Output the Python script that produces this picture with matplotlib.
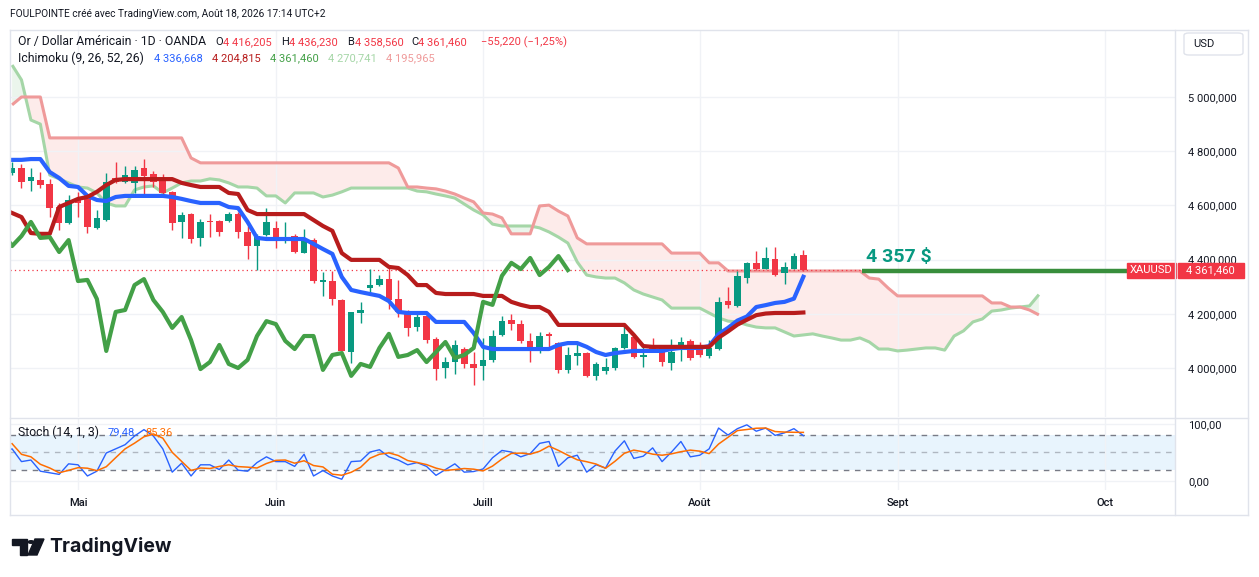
import numpy as np
import pandas as pd
import matplotlib
matplotlib.use("Agg")
import matplotlib.pyplot as plt
from matplotlib.patches import Rectangle, FancyBboxPatch, Polygon, Circle
from matplotlib.lines import Line2D
from matplotlib.transforms import blended_transform_factory

plt.rcParams['font.family'] = ['Roboto', 'DejaVu Sans']

# ---- data (bar index 0 = 1 mai, daily bars) ----
first_bar = -7
opens = [4720, 4738, 4690, 4694, 4679, 4594, 4535, 4627, 4624, 4517,
         4546, 4701, 4686, 4683, 4738, 4716, 4690, 4650, 4539, 4568,
         4480, 4543, 4543, 4543, 4568, 4502, 4450, 4491, 4517, 4476,
         4487, 4424, 4472, 4317, 4321, 4251, 4059, 4203, 4295, 4306,
         4328, 4255, 4199, 4151, 4192, 4107, 4000, 4022, 4070, 4015,
         4007, 4030, 4122, 4177, 4162, 4100, 4070, 4126, 4092, 3993,
         4044, 4055, 3971, 3989, 4000, 4074, 4115, 4041, 4085, 4078,
         4019, 4066, 4100, 4074, 4044, 4070, 4247, 4229, 4332, 4388,
         4365, 4402, 4351, 4365, 4416.205]
highs = [4760, 4753, 4738, 4723, 4697, 4609, 4639, 4650, 4628, 4583,
         4720, 4760, 4745, 4745, 4771, 4727, 4716, 4653, 4576, 4572,
         4550, 4568, 4546, 4576, 4576, 4524, 4495, 4590, 4543, 4539,
         4495, 4513, 4480, 4354, 4358, 4255, 4207, 4244, 4365, 4343,
         4373, 4325, 4214, 4203, 4203, 4115, 4041, 4103, 4078, 4059,
         4111, 4140, 4192, 4199, 4177, 4129, 4133, 4133, 4096, 4078,
         4092, 4059, 4022, 4037, 4078, 4162, 4118, 4078, 4111, 4081,
         4107, 4115, 4107, 4096, 4103, 4262, 4299, 4358, 4391, 4432,
         4447, 4447, 4391, 4424, 4436.23]
lows = [4712, 4664, 4653, 4664, 4557, 4509, 4532, 4557, 4498, 4513,
        4543, 4683, 4683, 4646, 4639, 4668, 4642, 4509, 4480, 4461,
        4450, 4483, 4487, 4539, 4480, 4402, 4362, 4487, 4443, 4461,
        4424, 4424, 4314, 4266, 4233, 4063, 4019, 4166, 4277, 4303,
        4218, 4188, 4118, 4137, 4092, 3956, 3963, 3978, 4000, 3937,
        3956, 4022, 4118, 4140, 4092, 4022, 4055, 4074, 3982, 3982,
        4011, 3967, 3956, 3978, 3993, 4070, 4037, 4004, 4059, 4007,
        3993, 4026, 4030, 4041, 4037, 4066, 4221, 4225, 4314, 4362,
        4365, 4340, 4310, 4365, 4358.56]
closes = [4738, 4686, 4705, 4675, 4590, 4535, 4620, 4609, 4520, 4554,
          4686, 4686, 4712, 4731, 4709, 4686, 4646, 4535, 4565, 4476,
          4539, 4539, 4502, 4568, 4502, 4450, 4487, 4539, 4480, 4483,
          4428, 4472, 4321, 4325, 4255, 4063, 4207, 4214, 4306, 4328,
          4251, 4207, 4148, 4188, 4103, 3996, 4022, 4085, 4015, 4000,
          4030, 4118, 4173, 4162, 4100, 4070, 4118, 4118, 3993, 4048,
          4055, 3971, 4015, 4004, 4074, 4126, 4041, 4048, 4066, 4022,
          4059, 4096, 4037, 4048, 4074, 4244, 4233, 4340, 4388, 4365,
          4406, 4343, 4373, 4413, 4361.46]

tenkan = [4768, 4768, 4771, 4771, 4723, 4701, 4672, 4668, 4635, 4620,
          4616, 4631, 4635, 4635, 4635, 4635, 4635, 4631, 4624, 4616,
          4609, 4609, 4609, 4594, 4590, 4539, 4480, 4476, 4476, 4476,
          4476, 4476, 4458, 4439, 4421, 4336, 4288, 4280, 4273, 4266,
          4247, 4207, 4203, 4203, 4203, 4170, 4170, 4170, 4170, 4129,
          4078, 4070, 4070, 4070, 4070, 4070, 4070, 4070, 4085, 4092,
          4092, 4078, 4059, 4048, 4055, 4059, 4063, 4063, 4063, 4063,
          4070, 4074, 4074, 4074, 4081, 4125, 4148, 4175, 4190, 4225,
          4232, 4240, 4244, 4256, 4336.668]
kijun = [4572, 4557, 4498, 4495, 4495, 4594, 4609, 4624, 4631, 4650,
         4675, 4694, 4697, 4697, 4697, 4697, 4697, 4697, 4683, 4675,
         4668, 4668, 4668, 4646, 4642, 4583, 4568, 4568, 4568, 4568,
         4568, 4568, 4546, 4524, 4506, 4424, 4399, 4399, 4399, 4399,
         4373, 4369, 4343, 4306, 4306, 4277, 4273, 4273, 4273, 4273,
         4266, 4266, 4266, 4244, 4233, 4225, 4225, 4207, 4159, 4159,
         4159, 4159, 4159, 4159, 4159, 4159, 4122, 4081, 4078, 4078,
         4078, 4078, 4078, 4078, 4078, 4112, 4135, 4160, 4178, 4195,
         4201, 4203, 4203, 4203, 4204.815]
# leading spans, bars -7 .. 102
span_a = [5118, 5063, 4915, 4900, 4712, 4698, 4683, 4668, 4664, 4646,
          4609, 4598, 4598, 4657, 4668, 4672, 4646, 4664, 4683, 4690,
          4690, 4698, 4694, 4683, 4668, 4668, 4664, 4635, 4635, 4609,
          4646, 4646, 4646, 4631, 4638, 4650, 4664, 4664, 4664, 4664,
          4664, 4664, 4664, 4653, 4650, 4642, 4635, 4627, 4605, 4583,
          4565, 4531, 4524, 4524, 4524, 4524, 4517, 4502, 4483, 4461,
          4391, 4343, 4336, 4332, 4332, 4314, 4288, 4273, 4262, 4251,
          4221, 4221, 4221, 4221, 4203, 4185, 4173, 4170, 4159, 4151,
          4148, 4148, 4133, 4118, 4122, 4126, 4118, 4111, 4103, 4103,
          4111, 4096, 4070, 4070, 4063, 4066, 4070, 4074, 4074, 4066,
          4118, 4137, 4170, 4181, 4210, 4214, 4221, 4225, 4229, 4270.741]
span_b = [4971, 5000, 5000, 5000, 4849, 4849, 4849, 4849, 4849, 4849,
          4849, 4849, 4849, 4849, 4849, 4849, 4849, 4849, 4849, 4775,
          4757, 4757, 4757, 4757, 4757, 4757, 4757, 4757, 4757, 4757,
          4757, 4757, 4757, 4757, 4757, 4757, 4757, 4757, 4757, 4757,
          4757, 4738, 4668, 4668, 4664, 4661, 4653, 4642, 4627, 4613,
          4572, 4568, 4554, 4495, 4495, 4495, 4598, 4601, 4579, 4561,
          4480, 4458, 4458, 4458, 4458, 4458, 4458, 4458, 4458, 4458,
          4424, 4424, 4424, 4424, 4388, 4388, 4358, 4358, 4358, 4358,
          4358, 4358, 4358, 4358, 4358, 4358, 4358, 4358, 4358, 4358,
          4358, 4332, 4328, 4295, 4266, 4266, 4266, 4266, 4266, 4266,
          4266, 4266, 4266, 4266, 4240, 4240, 4225, 4225, 4214, 4195.965]
chikou_shift = 25

stoch_first = -9
stoch_k = [90, 50,
           56.4, 34, 36.8, 17.2, 14.4, 11.6, 30.1, 28.4, 8.8, 17.2,
           49.1, 56.4, 63.7, 78.9, 90.1, 78.9, 56.4, 15.5, 31.2, 8.8,
           28.4, 28.4, 20, 36.8, 18.9, 17.2, 32.3, 42.4, 34, 34,
           25.6, 46.9, 8.8, 18.3, 8.8, 3.1, 34, 35.1, 50.8, 54.8,
           42.4, 36.8, 28.4, 32.3, 25.6, 9.9, 20, 30.1, 15.5, 16.6,
           21.1, 40.7, 53.6, 50.8, 42.4, 48, 66, 69.3, 25.6, 40.7,
           45.2, 15.5, 28.4, 22.8, 52.5, 70.5, 39.6, 43.5, 58.1, 34,
           50.8, 69.3, 42.4, 45.2, 56.4, 92.9, 80.6, 91.8, 98.5, 87.3,
           92.9, 80, 84.5, 91.8, 79.48]

month_bars = [0, 21, 43, 66, 87, 109]
month_labels = ["Mai", "Juin", "Juill", "Août", "Sept", "Oct"]
price_ticks = [4000, 4200, 4400, 4600, 4800, 5000]
level = 4357
level_label = "4 357 $"
level_start, level_end = 83.2, 111.4

# ---- colours ----
UP, DOWN = "#089981", "#F23645"
C_TENKAN, C_KIJUN, C_CHIKOU = "#2962FF", "#B71C1C", "#43A047"
C_SPANA, C_SPANB = "#A5D6A7", "#EF9A9A"
TXT = "#131722"
GRID = "#F0F2F6"
BORDER = "#E0E3EB"

W, H = 1259, 577
fig = plt.figure(figsize=(W / 100, H / 100), dpi=100)
fig.patch.set_facecolor("white")


def P(x, y):
    return x / W, 1 - y / H


def fmt_price(v):
    return f"{int(round(v)):,}".replace(",", " ") + ",000"


ax = fig.add_axes([10 / W, 1 - 417 / H, 1165 / W, 387 / H])
ax2 = fig.add_axes([10 / W, 1 - 490 / H, 1165 / W, 72 / H], sharex=ax)

idx = np.arange(first_bar, first_bar + len(closes))
o = np.array(opens); c = np.array(closes)
hi = np.array(highs); lo = np.array(lows)
col = np.where(c >= o, UP, DOWN)

# cloud
sidx = np.arange(first_bar, first_bar + len(span_a))
sa = np.array(span_a); sb = np.array(span_b)
ax.fill_between(sidx, sa, sb, where=sa >= sb, interpolate=True,
                color="#43A047", alpha=0.1, lw=0, zorder=1)
ax.fill_between(sidx, sa, sb, where=sa < sb, interpolate=True,
                color="#F44336", alpha=0.1, lw=0, zorder=1)
ax.plot(sidx, sa, color=C_SPANA, lw=2.2, zorder=2, solid_capstyle="butt")
ax.plot(sidx, sb, color=C_SPANB, lw=2.2, zorder=2, solid_capstyle="butt")

# candles
ax.vlines(idx, lo, hi, colors=col, lw=1, zorder=3)
body = np.maximum(np.abs(c - o), 3)
ax.bar(idx, body, bottom=np.minimum(o, c), width=0.7, color=col,
       linewidth=0, zorder=3.1)

# lines
ax.plot(idx, tenkan, color=C_TENKAN, lw=3, zorder=4)
ax.plot(idx, kijun, color=C_KIJUN, lw=3, zorder=4)
ax.plot(idx - chikou_shift, closes, color=C_CHIKOU, lw=3, zorder=4)

# last price line
ax.axhline(closes[-1], color=DOWN, lw=0.9, ls=(0, (1, 2.5)), zorder=2.5)
# drawn level
ax.plot([level_start, level_end], [level, level], color="#388E3C", lw=3.2,
        zorder=5, solid_capstyle="butt", clip_on=False)
ax.annotate(level_label, xy=(level_start, level), xytext=(3, 4),
            textcoords="offset points", color=UP, fontsize=14,
            fontweight="bold", va="bottom", ha="left", zorder=6)

ax.set_xlim(-7.22, 116.45)
ax.set_ylim(3819.2, 5247.2)
ax.yaxis.tick_right()
ax.set_yticks(price_ticks)
ax.set_yticklabels([fmt_price(v) for v in price_ticks])
ax.tick_params(axis="y", length=0, pad=9.4, labelsize=8, labelcolor=TXT)
ax.tick_params(axis="x", length=0, labelbottom=False)
ax.grid(True, color=GRID, lw=1, zorder=0)
for s in ax.spines.values():
    s.set_visible(False)

# stochastic
k = pd.Series(stoch_k, dtype=float)
d = k.rolling(3).mean()
kidx = np.arange(stoch_first, stoch_first + len(stoch_k))
ax2.axhspan(20, 80, color="#2196F3", alpha=0.1, lw=0, zorder=1)
ax2.axhline(80, color="#787B86", lw=1, ls=(0, (4, 4)), zorder=2)
ax2.axhline(50, color="#787B86", lw=1, ls=(0, (4, 4)), alpha=0.5, zorder=2)
ax2.axhline(20, color="#787B86", lw=1, ls=(0, (4, 4)), zorder=2)
ax2.plot(kidx, k, color="#2962FF", lw=1, zorder=3)
ax2.plot(kidx, d, color="#FF6D00", lw=1.1, zorder=3)
ax2.set_ylim(-15.8, 110.5)
ax2.yaxis.tick_right()
ax2.set_yticks([0, 100])
ax2.set_yticklabels(["0,00", "100,00"])
ax2.tick_params(axis="y", length=0, pad=9.4, labelsize=8, labelcolor=TXT)
ax2.set_xticks(month_bars)
ax2.set_xticklabels(month_labels)
ax2.tick_params(axis="x", length=0, pad=5.8, labelsize=8, labelcolor=TXT)
for lab in ax2.get_xticklabels():
    lab.set_fontweight("medium")
ax2.grid(True, color=GRID, lw=1, zorder=0)
for s in ax2.spines.values():
    s.set_visible(False)

# frame
for xs, ys in [([10, 1248], [30, 30]), ([10, 1248], [515, 515]),
               ([10, 10], [30, 515]), ([1248, 1248], [30, 515]),
               ([10, 1248], [417.5, 417.5]), ([1175, 1175], [30, 515])]:
    fig.add_artist(Line2D([x / W for x in xs], [1 - y / H for y in ys],
                          color=BORDER, lw=1, transform=fig.transFigure))

# last price labels on the axis
bt = blended_transform_factory(fig.transFigure, ax.transData)
half = 7.5 * (5247.2 - 3819.2) / 387
ax.add_artist(Rectangle((1127 / W, closes[-1] - half), 49 / W, 2 * half,
                        transform=bt, color=DOWN, clip_on=False, zorder=7))
ax.add_artist(Rectangle((1177.5 / W, closes[-1] - half), 66 / W, 2 * half,
                        transform=bt, color=DOWN, clip_on=False, zorder=7))
ax.text(1151.5 / W, closes[-1], "XAUUSD", transform=bt, color="white",
        fontsize=8, ha="center", va="center", zorder=8, clip_on=False)
ax.text(1210.5 / W, closes[-1], "4 361,460", transform=bt, color="white",
        fontsize=8, ha="center", va="center", zorder=8, clip_on=False)

# USD button
fig.add_artist(FancyBboxPatch(P(1184, 55), 59 / W, 22 / H,
                              boxstyle="round,pad=0,rounding_size=0.004",
                              transform=fig.transFigure, facecolor="white",
                              edgecolor=BORDER, lw=1))
fig.text(*P(1193, 44), "USD", fontsize=8, color=TXT, va="center")

# header
fig.text(*P(10, 14), "FOULPOINTE créé avec TradingView.com, Août 18, 2026 17:14 UTC+2",
         fontsize=7.3, color=TXT, va="center")
row2 = [(18, "Or / Dollar Américain · 1D · OANDA", TXT, 8.8), (215, "O", TXT, 8),
        (223, "4 416,205", DOWN, 8), (281, "H", TXT, 8), (289, "4 436,230", DOWN, 8),
        (347, "B", TXT, 8), (355, "4 358,560", DOWN, 8), (411, "C", TXT, 8),
        (418, "4 361,460", DOWN, 8), (481, "−55,220 (−1,25%)", DOWN, 8)]
for x, s, cl, fs in row2:
    fig.text(*P(x, 42), s, fontsize=fs, color=cl, va="center")
row3 = [(18, "Ichimoku (9, 26, 52, 26)", TXT, 8.8), (154, "4 336,668", C_TENKAN, 8),
        (212, "4 204,815", C_KIJUN, 8), (270, "4 361,460", C_CHIKOU, 8),
        (328, "4 270,741", C_SPANA, 8), (386, "4 195,965", C_SPANB, 8)]
for x, s, cl, fs in row3:
    fig.text(*P(x, 58), s, fontsize=fs, color=cl, va="center")
row4 = [(18, "Stoch (14, 1, 3)", TXT, 8.8), (108, "79,48", "#2962FF", 8),
        (145, "85,36", "#FF6D00", 8)]
for x, s, cl, fs in row4:
    fig.text(*P(x, 432), s, fontsize=fs, color=cl, va="center")

# TradingView logo
fig.add_artist(Polygon([P(12, 539), P(27, 539), P(27, 555), P(20, 555),
                        P(20, 545), P(12, 545)], closed=True,
                       transform=fig.transFigure, color="#131722"))
fig.add_artist(Circle(P(31, 542), 2.8 / W, transform=fig.transFigure,
                      color="#131722"))
fig.add_artist(Polygon([P(35, 539), P(44, 539), P(37, 555), P(28, 555)],
                       closed=True, transform=fig.transFigure, color="#131722"))
fig.text(*P(49, 547), "TradingView", fontsize=14, fontweight="bold",
         color="#131722", va="center", family=["Inter", "DejaVu Sans"])

fig.savefig("out.png", dpi=100, facecolor="white")
